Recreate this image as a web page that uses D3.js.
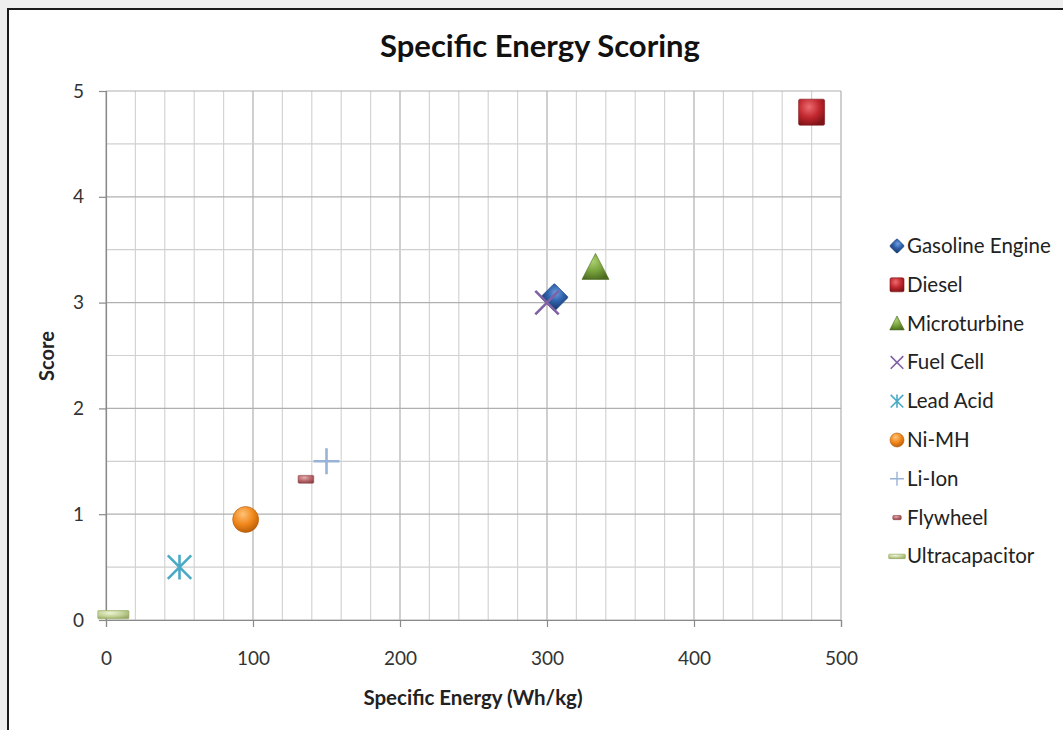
<!DOCTYPE html>
<html><head><meta charset="utf-8">
<script src="https://cdn.jsdelivr.net/npm/d3@7"></script>
<style>
html,body{margin:0;padding:0;background:#f0f0f0;}
svg{display:block;}
text{font-family:Lato,"Open Sans",sans-serif;}
</style></head>
<body>
<script>
// ---- data ----
const seriesNames = ["Gasoline Engine","Diesel","Microturbine","Fuel Cell","Lead Acid","Ni-MH","Li-Ion","Flywheel","Ultracapacitor"];
const energyValues = [305, 480, 333, 300, 50, 95, 150, 136, 5];
const scoreValues  = [3.05, 4.8, 3.33, 3.0, 0.5, 0.95, 1.5, 1.33, 0.05];
const xTicks = [0, 100, 200, 300, 400, 500];
const yTicks = [0, 1, 2, 3, 4, 5];
const titleText = "Specific Energy Scoring";
const xLabel = "Specific Energy (Wh/kg)";
const yLabel = "Score";

// ---- styles ----
const markerKinds = ["diamond","square","triangle","x","star","circle","plus","dashSmall","dashLong"];
const markerColors = ["#2f62ad","#c0262d","#76a03a","#7f62a3","#4aaac6","#ef8518","#98b2d8","#b9676a","#c2d196"];
const markerDark   = ["#1d3f78","#7d1418","#4b6a20","#5c437e","#2f8aa6","#b35a08","#7b97c2","#8c4346","#96a864"];
const markerLight  = ["#6f9ee0","#ec6c70","#a9d170","#a48bc4","#8fd3e6","#ffc277","#c9d8ee","#e3aeb0","#eef3d4"];

const W = 1063, H = 730;
const svg = d3.select("body").append("svg").attr("width", W).attr("height", H);

// page frame
svg.append("rect").attr("x",0).attr("y",0).attr("width",W).attr("height",H).attr("fill","#eeeeee");
svg.append("rect").attr("x",8).attr("y",9).attr("width",W).attr("height",H).attr("fill","#ffffff")
  .attr("stroke","#1a1a1a").attr("stroke-width",2);

const defs = svg.append("defs");
markerColors.forEach((c,i)=>{
  const g = defs.append("radialGradient").attr("id","g"+i).attr("cx","40%").attr("cy","30%").attr("r","75%");
  g.append("stop").attr("offset","0%").attr("stop-color",markerLight[i]);
  g.append("stop").attr("offset","55%").attr("stop-color",c);
  g.append("stop").attr("offset","100%").attr("stop-color",markerDark[i]);
});

const x = d3.scaleLinear().domain([0,500]).range([106,841]);
const y = d3.scaleLinear().domain([0,5]).range([620,91]);

// grid
const grid = svg.append("g");
const xMinor = d3.range(0, 501, 20);
const yMinor = d3.range(0, 5.01, 0.5);
grid.selectAll(".vx").data(xMinor).join("line")
  .attr("x1",d=>x(d)).attr("x2",d=>x(d)).attr("y1",y(5)).attr("y2",y(0))
  .attr("stroke",d=>d%100===0?"#b0b0b0":"#d4d4d4").attr("stroke-width",1.2);
grid.selectAll(".hy").data(yMinor).join("line")
  .attr("x1",x(0)).attr("x2",x(500)).attr("y1",d=>y(d)).attr("y2",d=>y(d))
  .attr("stroke",d=>Number.isInteger(d)?"#b0b0b0":"#d0d0d0").attr("stroke-width",1.2);

// axes
const xAxis = d3.axisBottom(x).tickValues(xTicks).tickFormat(d3.format("d")).tickSize(7).tickPadding(25);
const yAxis = d3.axisLeft(y).tickValues(yTicks).tickFormat(d3.format("d")).tickSize(7).tickPadding(15);
const gx = svg.append("g").attr("transform",`translate(0,${y(0)})`).call(xAxis);
const gy = svg.append("g").attr("transform",`translate(${x(0)},0)`).call(yAxis);
[gx,gy].forEach(g=>{
  g.select(".domain").attr("stroke","#8a8a8a").attr("stroke-width",1.2);
  g.selectAll(".tick line").attr("stroke","#8a8a8a").attr("stroke-width",1.2);
  g.selectAll(".tick text").attr("fill","#333").style("font-size","19px").style("font-family","Lato, sans-serif");
});

// titles
svg.append("text").attr("x",540).attr("y",57).attr("text-anchor","middle")
  .style("font-size","31px").style("font-weight","bold").attr("fill","#111").text(titleText);
svg.append("text").attr("x",473).attr("y",705).attr("text-anchor","middle")
  .style("font-size","20.5px").style("font-weight","bold").attr("fill","#222").text(xLabel);
svg.append("text").attr("transform","translate(54,356) rotate(-90)").attr("text-anchor","middle")
  .style("font-size","20px").style("font-weight","bold").attr("fill","#222").text(yLabel);

// marker drawing
function drawMarker(g, kind, i, s){
  const fill = `url(#g${i})`, col = markerColors[i], dark = markerDark[i];
  switch(kind){
    case "diamond":
      g.append("rect").attr("x",-s*0.38).attr("y",-s*0.38).attr("width",s*0.76).attr("height",s*0.76)
        .attr("transform","rotate(45)").attr("fill",fill).attr("stroke",dark).attr("stroke-width",0.6).attr("rx",1.5);
      break;
    case "square":
      g.append("rect").attr("x",-s/2).attr("y",-s/2).attr("width",s).attr("height",s)
        .attr("fill",fill).attr("stroke",dark).attr("stroke-width",0.6).attr("rx",1.5);
      break;
    case "triangle":
      g.append("path").attr("d",`M0,${-s*0.55}L${s*0.52},${s*0.45}L${-s*0.52},${s*0.45}Z`)
        .attr("fill",fill).attr("stroke",dark).attr("stroke-width",0.6);
      break;
    case "circle":
      g.append("circle").attr("r",s/2).attr("fill",fill).attr("stroke",dark).attr("stroke-width",0.6);
      break;
    case "x": {
      const h = s*0.45;
      g.append("path").attr("d",`M${-h},${-h}L${h},${h}M${-h},${h}L${h},${-h}`)
        .attr("stroke",col).attr("stroke-width",s>16?2.6:1.6).attr("fill","none");
      break; }
    case "star": {
      const h = s*0.45;
      g.append("path").attr("d",`M${-h},${-h}L${h},${h}M${-h},${h}L${h},${-h}M0,${-h*1.05}L0,${h*1.05}`)
        .attr("stroke",col).attr("stroke-width",s>16?2.6:1.6).attr("fill","none");
      break; }
    case "plus": {
      const h = s*0.5;
      g.append("path").attr("d",`M${-h},0L${h},0M0,${-h}L0,${h}`)
        .attr("stroke",col).attr("stroke-width",s>16?2.6:1.4).attr("fill","none");
      break; }
    case "dashSmall":
      g.append("rect").attr("x",-s*0.3).attr("y",-s*0.15).attr("width",s*0.6).attr("height",s*0.3)
        .attr("fill",fill).attr("stroke",dark).attr("stroke-width",0.6).attr("rx",1);
      break;
    case "dashLong":
      g.append("rect").attr("x",-s*0.6).attr("y",-s*0.16).attr("width",s*1.2).attr("height",s*0.32)
        .attr("fill",fill).attr("stroke",dark).attr("stroke-width",0.6).attr("rx",1);
      break;
  }
}

// points
const pts = svg.append("g");
seriesNames.forEach((name,i)=>{
  const g = pts.append("g").attr("transform",`translate(${x(energyValues[i])},${y(scoreValues[i])})`);
  drawMarker(g, markerKinds[i], i, 26);
});

// legend
const leg = svg.append("g");
seriesNames.forEach((name,i)=>{
  const cy = 246 + i*38.8;
  const g = leg.append("g").attr("transform",`translate(897,${cy})`);
  drawMarker(g, markerKinds[i], i, 14);
  leg.append("text").attr("x",907).attr("y",cy+7).style("font-size","20.5px").attr("fill","#222").text(name);
});
</script>
</body></html>
